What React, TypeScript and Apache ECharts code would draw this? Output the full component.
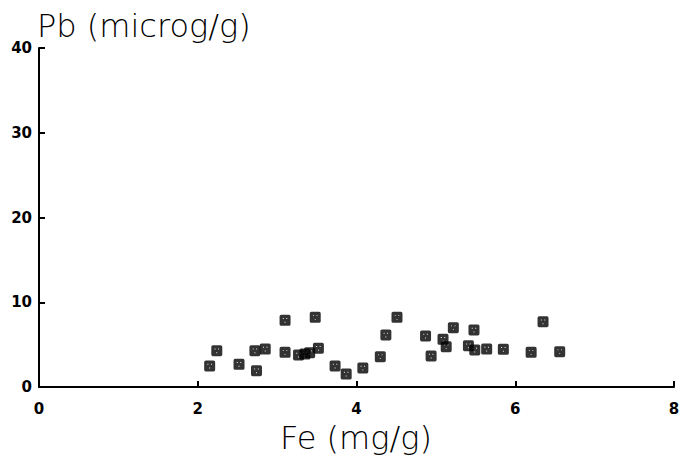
import React, { useEffect, useRef } from "react";
import * as echarts from "echarts";

const feValues: number[] = [
  2.15, 2.24, 2.52, 2.74, 2.72, 2.85, 3.1, 3.48, 3.1, 3.27, 3.35, 3.41, 3.52, 3.73, 3.87, 4.08,
  4.3, 4.37, 4.51, 4.87, 4.94, 5.09, 5.13, 5.22, 5.48, 5.41, 5.49, 5.64, 5.85, 6.2, 6.35, 6.56,
];
const pbValues: number[] = [
  2.48, 4.28, 2.68, 1.92, 4.28, 4.48, 7.87, 8.22, 4.09, 3.78, 3.89, 4.05, 4.57, 2.48, 1.53, 2.24,
  3.58, 6.14, 8.22, 6.02, 3.66, 5.63, 4.76, 7.0, 6.73, 4.87, 4.37, 4.48, 4.45, 4.09, 7.7, 4.17,
];
const xTicks: number[] = [0, 2, 4, 6, 8];
const yTicks: number[] = [0, 10, 20, 30, 40];
const xTitle = "Fe (mg/g)";
const yTitle = "Pb (microg/g)";

const markerPath =
  "path://M1.5,0H8.5Q10,0 10,1.5V8.5Q10,10 8.5,10H1.5Q0,10 0,8.5V1.5Q0,0 1.5,0Z M3,3V3.8H3.8V3Z M6.2,3V3.8H7V3Z M4.6,6.4V7.2H5.4V6.4Z";

export default function App() {
  const ref = useRef<HTMLDivElement>(null);
  useEffect(() => {
    if (!ref.current) return;
    const chart = echarts.init(ref.current, undefined, { renderer: "svg" });
    const data = feValues.map((x, i) => [x, pbValues[i]]);
    const axisLabelStyle = {
      color: "#000",
      fontFamily: "DejaVu Sans",
      fontWeight: "bold" as const,
      fontSize: 15,
    };
    chart.setOption({
      animation: false,
      backgroundColor: "#fff",
      grid: { left: 39, right: 10, top: 48, bottom: 75, containLabel: false },
      xAxis: {
        type: "value",
        min: xTicks[0],
        max: xTicks[xTicks.length - 1],
        interval: 2,
        axisLine: { show: true, onZero: false, lineStyle: { color: "#000", width: 2 } },
        axisTick: { show: true, inside: true, length: 6, lineStyle: { color: "#000", width: 2 } },
        splitLine: { show: false },
        axisLabel: { ...axisLabelStyle, margin: 14 },
      },
      yAxis: {
        type: "value",
        min: yTicks[0],
        max: yTicks[yTicks.length - 1],
        interval: 10,
        axisLine: { show: true, onZero: false, lineStyle: { color: "#000", width: 2 } },
        axisTick: { show: true, inside: true, length: 6, lineStyle: { color: "#000", width: 2 } },
        splitLine: { show: false },
        axisLabel: { ...axisLabelStyle, margin: 7 },
      },
      graphic: [
        {
          type: "text",
          left: 37,
          top: 10,
          style: {
            text: yTitle,
            fill: "#000",
            font: "200 32px 'DejaVu Sans'",
          },
        },
        {
          type: "text",
          x: 356,
          y: 438,
          style: {
            text: xTitle,
            fill: "#000",
            font: "200 32px 'DejaVu Sans'",
            align: "center",
            verticalAlign: "middle",
          },
        },
      ],
      series: [
        {
          type: "scatter",
          data,
          symbol: markerPath,
          symbolSize: 11,
          itemStyle: { color: "#000" },
        },
      ],
    });
    return () => chart.dispose();
  }, []);
  return (
    <div
      ref={ref}
      style={{ position: "fixed", left: 0, top: 0, width: 684, height: 462 }}
    />
  );
}
